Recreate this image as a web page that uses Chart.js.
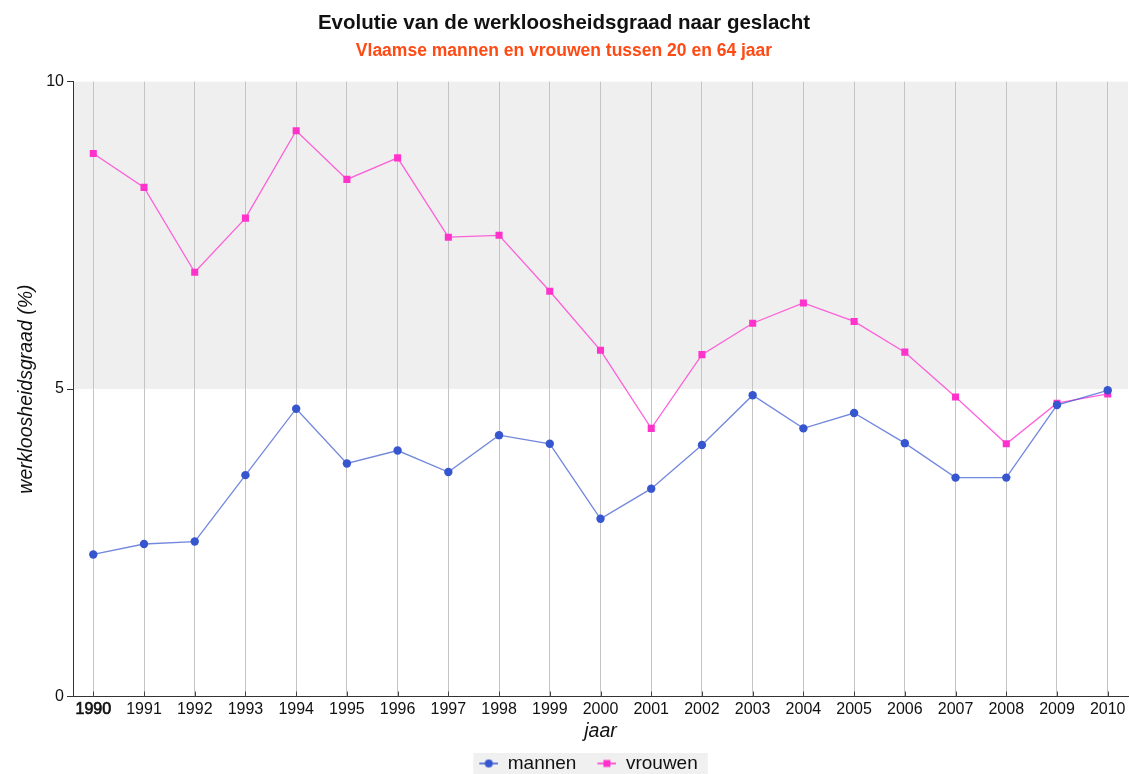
<!DOCTYPE html>
<html>
<head>
<meta charset="utf-8">
<script src="https://cdn.jsdelivr.net/npm/chart.js@4/dist/chart.umd.min.js"></script>
<style>
  html, body { margin: 0; padding: 0; background: #fff; }
  #wrap { width: 1129px; height: 774px; }
</style>
</head>
<body>
<div id="wrap"><canvas id="chart"></canvas></div>
<script>
var years = [1990, 1991, 1992, 1993, 1994, 1995, 1996, 1997, 1998, 1999, 2000,
             2001, 2002, 2003, 2004, 2005, 2006, 2007, 2008, 2009, 2010];
var mannen = [2.31, 2.48, 2.52, 3.60, 4.68, 3.79, 4.00, 3.65, 4.25, 4.11, 2.89,
              3.38, 4.09, 4.90, 4.36, 4.61, 4.12, 3.56, 3.56, 4.74, 4.98];
var vrouwen = [8.83, 8.28, 6.90, 7.78, 9.20, 8.41, 8.76, 7.47, 7.50, 6.59, 5.63,
               4.36, 5.56, 6.07, 6.40, 6.10, 5.60, 4.87, 4.11, 4.77, 4.92];
var yTicks = [0, 5, 10];
var band = [5, 10];

Chart.defaults.font.family = '"Liberation Sans", Arial, sans-serif';
Chart.defaults.color = '#111';

var blue = '#3656cf';
var pink = '#ff33cc';
var iconGap = 19;    // blank space left of each legend icon (spacing between items)
var iconW = 19;
var legendShift = 15;

function legendIcon(color, shape) {
  var c = document.createElement('canvas');
  c.width = iconW + iconGap;
  c.height = 12;
  var g = c.getContext('2d');
  g.translate(iconGap, 0);
  g.strokeStyle = color;
  g.lineWidth = 1.5;
  g.beginPath();
  g.moveTo(0, 6);
  g.lineTo(iconW, 6);
  g.stroke();
  g.fillStyle = color;
  if (shape === 'circle') {
    g.beginPath();
    g.arc(iconW / 2, 6, 4, 0, Math.PI * 2);
    g.fill();
  } else {
    g.fillRect(iconW / 2 - 3.5, 2.5, 7, 7);
  }
  return c;
}
var icons = [legendIcon(blue, 'circle'), legendIcon(pink, 'rect')];

function points(vals) {
  return years.map(function (y, i) { return { x: y, y: vals[i] }; });
}

var backdrop = {
  id: 'backdrop',
  afterLayout: function (chart) {
    // legend in the original sits a bit right of the canvas centre
    chart.legend.left += legendShift;
    chart.legend.right += legendShift;
  },
  beforeDraw: function (chart) {
    var ctx = chart.ctx, area = chart.chartArea, ys = chart.scales.y;
    var top = ys.getPixelForValue(band[1]);
    var bottom = ys.getPixelForValue(band[0]);
    ctx.save();
    ctx.fillStyle = '#efefef';
    ctx.fillRect(area.left, top, area.right - area.left, bottom - top);

    var hb = chart.legend.legendHitBoxes;
    if (hb && hb.length) {
      var first = hb[0], last = hb[hb.length - 1];
      var x0 = first.left + iconGap - 6;
      var x1 = last.left + last.width + 10;
      ctx.fillStyle = '#f0f0f0';
      ctx.fillRect(x0, first.top - 1, x1 - x0, first.height + 2);
    }
    ctx.restore();
  },
  beforeDatasetsDraw: function (chart) {
    // short dark tick marks pointing into the plot on the x axis
    var ctx = chart.ctx, xs = chart.scales.x, bottom = chart.chartArea.bottom;
    ctx.save();
    ctx.strokeStyle = '#444';
    ctx.lineWidth = 1;
    years.forEach(function (y) {
      var px = Math.round(xs.getPixelForValue(y)) + 0.5;
      ctx.beginPath();
      ctx.moveTo(px, bottom - 5);
      ctx.lineTo(px, bottom);
      ctx.stroke();
    });
    ctx.restore();
  }
};

new Chart(document.getElementById('chart'), {
  type: 'line',
  data: {
    datasets: [
      {
        label: 'mannen',
        data: points(mannen),
        borderColor: 'rgba(54, 86, 207, 0.7)',
        borderWidth: 1.3,
        pointStyle: 'circle',
        pointRadius: 4.2,
        pointBackgroundColor: blue,
        pointBorderWidth: 0,
        tension: 0
      },
      {
        label: 'vrouwen',
        data: points(vrouwen),
        borderColor: 'rgba(255, 60, 210, 0.8)',
        borderWidth: 1.3,
        pointStyle: 'rect',
        pointRadius: 5,
        pointBackgroundColor: pink,
        pointBorderWidth: 0,
        tension: 0
      }
    ]
  },
  options: {
    responsive: true,
    maintainAspectRatio: false,
    animation: false,
    layout: { autoPadding: false, padding: { left: 0, right: 1, top: 0, bottom: 0 } },
    scales: {
      x: {
        type: 'linear',
        min: 1989.6,
        max: 2010.4,
        afterBuildTicks: function (s) { s.ticks = years.map(function (v) { return { value: v }; }); },
        afterFit: function (s) { s.paddingLeft = 0; s.paddingRight = 0; },
        ticks: {
          callback: function (v) { return String(v); },
          font: { size: 16, lineHeight: 1 },
          color: '#111',
          // the first year label is printed twice in the original, so it looks heavier
          textStrokeColor: '#111',
          textStrokeWidth: function (c) { return c.tick && c.tick.value === years[0] ? 0.7 : 0; },
          padding: 5.5,
          maxRotation: 0,
          autoSkip: false
        },
        grid: { color: '#c4c4c4', drawTicks: false },
        border: { color: '#333', width: 1 },
        title: {
          display: true,
          text: 'jaar',
          font: { size: 19.5, style: 'italic', lineHeight: 1 },
          color: '#111',
          padding: { top: -1.5, bottom: 10.5 }
        }
      },
      y: {
        min: 0,
        max: 10,
        afterBuildTicks: function (s) { s.ticks = yTicks.map(function (v) { return { value: v }; }); },
        afterFit: function (s) { s.width = 73; },
        ticks: { font: { size: 16 }, color: '#111', padding: 3 },
        grid: { drawOnChartArea: false, tickLength: 6, color: '#333' },
        border: { color: '#333', width: 1 },
        title: {
          display: true,
          text: 'werkloosheidsgraad (%)',
          font: { size: 19.5, style: 'italic' },
          color: '#111',
          padding: { top: 15, bottom: 0 }
        }
      }
    },
    plugins: {
      title: {
        display: true,
        text: 'Evolutie van de werkloosheidsgraad naar geslacht',
        font: { size: 20.5, weight: 'bold' },
        color: '#111',
        padding: { top: 11, bottom: 5 }
      },
      subtitle: {
        display: true,
        text: 'Vlaamse mannen en vrouwen tussen 20 en 64 jaar',
        font: { size: 17.5, weight: 'bold' },
        color: '#ff4a14',
        padding: { top: 0, bottom: 20 }
      },
      legend: {
        position: 'bottom',
        maxHeight: 22,
        labels: {
          usePointStyle: true,
          pointStyleWidth: iconW + iconGap,
          padding: 2,
          font: { size: 19 },
          color: '#111',
          generateLabels: function (chart) {
            return chart.data.datasets.map(function (ds, i) {
              return {
                text: ds.label,
                pointStyle: icons[i],
                fillStyle: ds.pointBackgroundColor,
                strokeStyle: ds.pointBackgroundColor,
                lineWidth: 0,
                fontColor: '#111',
                hidden: !chart.isDatasetVisible(i),
                datasetIndex: i
              };
            });
          }
        }
      },
      tooltip: { enabled: false }
    }
  },
  plugins: [backdrop]
});
</script>
</body>
</html>
